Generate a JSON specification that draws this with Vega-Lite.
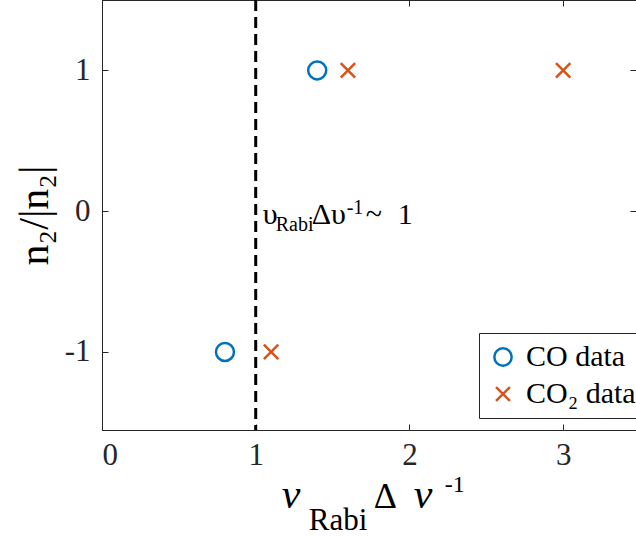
{
  "$schema": "https://vega.github.io/schema/vega-lite/v6.json",
  "autosize": "none",
  "width": 534,
  "height": 430,
  "padding": {"left": 102, "top": 0, "right": 0, "bottom": 108},
  "background": "white",
  "config": {
    "font": "Liberation Serif",
    "text": {"font": "Liberation Serif", "fontWeight": "normal", "color": "#000000"},
    "view": {"stroke": "#262626", "strokeWidth": 1},
    "axis": {
      "grid": false,
      "domainColor": "#262626",
      "tickColor": "#262626",
      "tickSize": -6,
      "labelFont": "Liberation Serif",
      "labelFontSize": 31,
      "labelColor": "#262626",
      "titleFont": "Liberation Serif",
      "titleColor": "#000000",
      "titleFontWeight": "normal"
    },
    "legend": {
      "labelFont": "Liberation Serif",
      "labelFontSize": 30,
      "labelColor": "#000000",
      "labelLimit": 300
    }
  },
  "data": {
    "values": [
      {"x": 0.8, "y": -1, "series": "CO data"},
      {"x": 1.4, "y": 1, "series": "CO data"},
      {"x": 1.1, "y": -1, "series": "CO₂ data"},
      {"x": 1.6, "y": 1, "series": "CO₂ data"},
      {"x": 3.0, "y": 1, "series": "CO₂ data"}
    ]
  },
  "resolve": {"axis": {"x": "independent", "y": "independent"}},
  "layer": [
    {
      "data": {"values": [{}]},
      "mark": {"type": "rule", "color": "black", "strokeWidth": 3, "strokeDash": [11, 6]},
      "encoding": {
        "x": {"datum": 1, "type": "quantitative", "scale": {"domain": [0, 3.474], "nice": false, "zero": false},
          "axis": {"orient": "top", "labels": false, "title": null, "values": [0, 1, 2, 3]}},
        "y": {"datum": 1.5, "type": "quantitative", "scale": {"domain": [-1.555, 1.5], "nice": false, "zero": false},
          "axis": {"orient": "right", "labels": false, "title": null, "values": [-1, 0, 1], "domain": false}},
        "y2": {"datum": -1.555}
      }
    },
    {
      "mark": {"type": "point", "filled": false, "strokeWidth": 2.5, "size": 324, "opacity": 1},
      "encoding": {
        "x": {"field": "x", "type": "quantitative", "scale": {"domain": [0, 3.474], "nice": false, "zero": false},
          "axis": {"orient": "bottom", "values": [0, 1, 2, 3], "title": null, "labelPadding": 16}},
        "y": {"field": "y", "type": "quantitative", "scale": {"domain": [-1.555, 1.5], "nice": false, "zero": false},
          "axis": {"orient": "left", "values": [-1, 0, 1], "labelExpr": "datum.value < 0 ? '-1' : datum.label",
            "title": "n₂/|n₂|", "titleFontSize": 42, "labelPadding": 18, "titlePadding": 8}},
        "shape": {"field": "series", "type": "nominal",
          "scale": {"domain": ["CO data", "CO₂ data"], "range": ["circle", "M-0.8,-0.8L0.8,0.8M-0.8,0.8L0.8,-0.8"]},
          "legend": {"title": null, "orient": "none", "legendX": 377, "legendY": 333,
            "symbolSize": 300, "symbolStrokeWidth": 2.5, "strokeColor": "#262626", "fillColor": "white",
            "padding": 9, "rowPadding": 7, "labelOffset": 8}},
        "color": {"field": "series", "type": "nominal",
          "scale": {"domain": ["CO data", "CO₂ data"], "range": ["#0072BD", "#D95319"]},
          "legend": {"title": null, "orient": "none", "legendX": 377, "legendY": 333,
            "symbolSize": 300, "symbolStrokeWidth": 2.5, "strokeColor": "#262626", "fillColor": "white",
            "padding": 9, "rowPadding": 7, "labelOffset": 8}}
      }
    },
    {
      "data": {"values": [{}]},
      "mark": {"type": "text", "text": "υ", "fontSize": 30, "align": "left", "baseline": "alphabetic", "dx": 7, "dy": 13},
      "encoding": {"x": {"datum": 1, "type": "quantitative", "axis": null}, "y": {"datum": 0, "type": "quantitative", "axis": null}}
    },
    {
      "data": {"values": [{}]},
      "mark": {"type": "text", "text": "Rabi", "fontSize": 20, "align": "left", "baseline": "alphabetic", "dx": 20, "dy": 20},
      "encoding": {"x": {"datum": 1, "type": "quantitative", "axis": null}, "y": {"datum": 0, "type": "quantitative", "axis": null}}
    },
    {
      "data": {"values": [{}]},
      "mark": {"type": "text", "text": "Δυ", "fontSize": 30, "align": "left", "baseline": "alphabetic", "dx": 56, "dy": 13},
      "encoding": {"x": {"datum": 1, "type": "quantitative", "axis": null}, "y": {"datum": 0, "type": "quantitative", "axis": null}}
    },
    {
      "data": {"values": [{}]},
      "mark": {"type": "text", "text": "-1", "fontSize": 20, "align": "left", "baseline": "alphabetic", "dx": 91, "dy": 3},
      "encoding": {"x": {"datum": 1, "type": "quantitative", "axis": null}, "y": {"datum": 0, "type": "quantitative", "axis": null}}
    },
    {
      "data": {"values": [{}]},
      "mark": {"type": "text", "text": "~", "fontSize": 30, "align": "left", "baseline": "alphabetic", "dx": 110, "dy": 13},
      "encoding": {"x": {"datum": 1, "type": "quantitative", "axis": null}, "y": {"datum": 0, "type": "quantitative", "axis": null}}
    },
    {
      "data": {"values": [{}]},
      "mark": {"type": "text", "text": "1", "fontSize": 30, "align": "left", "baseline": "alphabetic", "dx": 142, "dy": 13},
      "encoding": {"x": {"datum": 1, "type": "quantitative", "axis": null}, "y": {"datum": 0, "type": "quantitative", "axis": null}}
    },
    {
      "data": {"values": [{}]},
      "mark": {"type": "text", "text": "ν", "fontSize": 42, "fontStyle": "italic", "align": "left", "baseline": "alphabetic", "dx": 26, "dy": 78},
      "encoding": {"x": {"datum": 1, "type": "quantitative", "axis": null}, "y": {"datum": -1.555, "type": "quantitative", "axis": null}}
    },
    {
      "data": {"values": [{}]},
      "mark": {"type": "text", "text": "Rabi", "fontSize": 31, "align": "left", "baseline": "alphabetic", "dx": 53, "dy": 100},
      "encoding": {"x": {"datum": 1, "type": "quantitative", "axis": null}, "y": {"datum": -1.555, "type": "quantitative", "axis": null}}
    },
    {
      "data": {"values": [{}]},
      "mark": {"type": "text", "text": "Δ", "fontSize": 36, "align": "left", "baseline": "alphabetic", "dx": 118, "dy": 78},
      "encoding": {"x": {"datum": 1, "type": "quantitative", "axis": null}, "y": {"datum": -1.555, "type": "quantitative", "axis": null}}
    },
    {
      "data": {"values": [{}]},
      "mark": {"type": "text", "text": "ν", "fontSize": 42, "fontStyle": "italic", "align": "left", "baseline": "alphabetic", "dx": 158, "dy": 78},
      "encoding": {"x": {"datum": 1, "type": "quantitative", "axis": null}, "y": {"datum": -1.555, "type": "quantitative", "axis": null}}
    },
    {
      "data": {"values": [{}]},
      "mark": {"type": "text", "text": "-1", "fontSize": 24, "align": "left", "baseline": "alphabetic", "dx": 189, "dy": 62},
      "encoding": {"x": {"datum": 1, "type": "quantitative", "axis": null}, "y": {"datum": -1.555, "type": "quantitative", "axis": null}}
    }
  ]
}
